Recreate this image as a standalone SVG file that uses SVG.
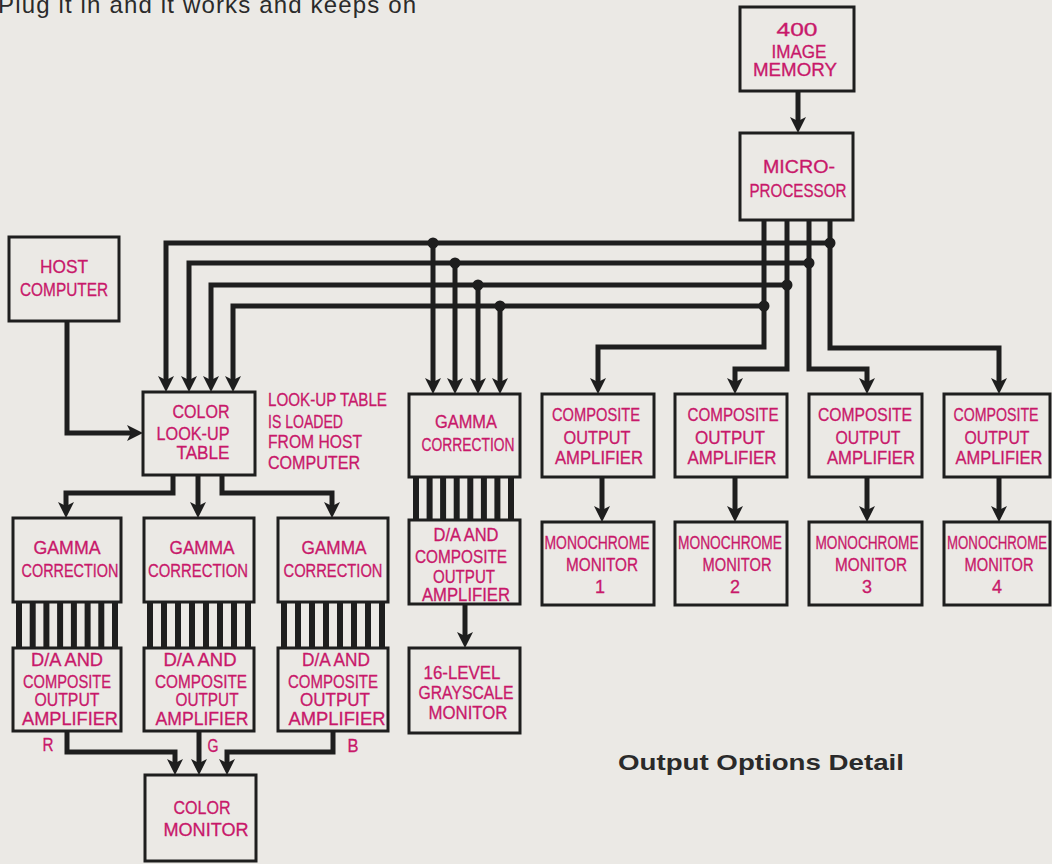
<svg xmlns="http://www.w3.org/2000/svg" width="1052" height="864" viewBox="0 0 1052 864">
<defs>
<style>
.bx{fill:none;stroke:#1e1e1e;stroke-width:3}
.bar{fill:#1e1e1e}
.c{fill:none;stroke:#1e1e1e;stroke-width:5;stroke-linejoin:miter}
.a{marker-end:url(#ah)}
.d{fill:#1e1e1e}
.t{fill:#c8186a;stroke:#c8186a;stroke-width:0.3;font-family:"Liberation Sans",Arial,sans-serif;font-size:18px;text-anchor:middle}
.s{text-anchor:start}
.k{fill:#2a2a2a;font-family:"Liberation Sans",Arial,sans-serif}
</style>
<marker id="ah" markerUnits="userSpaceOnUse" viewBox="0 -8 16 16" refX="5" refY="0" markerWidth="16" markerHeight="16" orient="auto">
<path d="M0,-8 L16,0 L0,8 L4,0 Z" fill="#1e1e1e"/>
</marker>
</defs>
<rect x="0" y="0" width="1052" height="864" fill="#ebe9e5"/>
<text class="k" x="-2" y="13" font-size="24" textLength="418" lengthAdjust="spacing">Plug it in and it works and keeps on</text>
<text class="k" x="618" y="770" font-size="22" font-weight="bold" textLength="286" lengthAdjust="spacingAndGlyphs">Output Options Detail</text>

<g id="connectors">
<path class="c a" d="M798,91 V122"/>
<path class="c a" d="M67,321 V433 H132"/>
<path class="c a" d="M830,220 V348 H999 V383"/>
<path class="c a" d="M830,243 H166 V381"/>
<path class="c a" d="M433,243 V383"/>
<path class="c a" d="M809,220 V369 H867 V383"/>
<path class="c a" d="M809,263 H189 V381"/>
<path class="c a" d="M455,263 V383"/>
<path class="c a" d="M787,220 V369 H735 V383"/>
<path class="c a" d="M787,285 H211 V381"/>
<path class="c a" d="M478,285 V383"/>
<path class="c a" d="M764,220 V347 H598 V383"/>
<path class="c a" d="M764,306 H233 V381"/>
<path class="c a" d="M500,306 V383"/>
<circle class="d" cx="830" cy="243" r="5.5"/>
<circle class="d" cx="809" cy="263" r="5.5"/>
<circle class="d" cx="787" cy="285" r="5.5"/>
<circle class="d" cx="764" cy="306" r="5.5"/>
<circle class="d" cx="433" cy="243" r="5.5"/>
<circle class="d" cx="455" cy="263" r="5.5"/>
<circle class="d" cx="478" cy="285" r="5.5"/>
<circle class="d" cx="500" cy="306" r="5.5"/>
<path class="c a" d="M173,475 V493 H66 V507"/>
<path class="c a" d="M198,475 V507"/>
<path class="c a" d="M222,475 V493 H332 V507"/>
<path class="c a" d="M67,731 V752 H175 V764"/>
<path class="c a" d="M199,731 V764"/>
<path class="c a" d="M333,731 V752 H227 V764"/>
<path class="c a" d="M465,604 V637"/>
<path class="c a" d="M602,477 V511"/>
<path class="c a" d="M735,477 V511"/>
<path class="c a" d="M867,477 V511"/>
<path class="c a" d="M999,477 V511"/>
</g>

<g id="image-memory">
<rect class="bx" x="740" y="7" width="114" height="84"/>
<text class="t" x="797" y="36" textLength="41" lengthAdjust="spacingAndGlyphs">400</text>
<text class="t" x="799" y="58" textLength="55" lengthAdjust="spacingAndGlyphs">IMAGE</text>
<text class="t" x="795" y="76" textLength="84" lengthAdjust="spacingAndGlyphs">MEMORY</text>
</g>
<g id="microprocessor">
<rect class="bx" x="740" y="133" width="113" height="87"/>
<text class="t" x="799" y="173" textLength="72" lengthAdjust="spacingAndGlyphs">MICRO-</text>
<text class="t" x="798" y="197" textLength="97" lengthAdjust="spacingAndGlyphs">PROCESSOR</text>
</g>
<g id="host-computer">
<rect class="bx" x="9" y="237" width="110" height="84"/>
<text class="t" x="64" y="273" textLength="48" lengthAdjust="spacingAndGlyphs">HOST</text>
<text class="t" x="64" y="296" textLength="88" lengthAdjust="spacingAndGlyphs">COMPUTER</text>
</g>
<g id="color-lut">
<rect class="bx" x="143" y="392" width="112" height="83"/>
<text class="t" x="201" y="418" textLength="57" lengthAdjust="spacingAndGlyphs">COLOR</text>
<text class="t" x="193" y="440" textLength="73" lengthAdjust="spacingAndGlyphs">LOOK-UP</text>
<text class="t" x="203" y="459" textLength="53" lengthAdjust="spacingAndGlyphs">TABLE</text>
</g>
<g id="lut-note">
<text class="t s" x="268" y="406" textLength="119" lengthAdjust="spacingAndGlyphs">LOOK-UP TABLE</text>
<text class="t s" x="268" y="428" textLength="75" lengthAdjust="spacingAndGlyphs">IS LOADED</text>
<text class="t s" x="268" y="448" textLength="94" lengthAdjust="spacingAndGlyphs">FROM HOST</text>
<text class="t s" x="268" y="469" textLength="92" lengthAdjust="spacingAndGlyphs">COMPUTER</text>
</g>

<g id="gamma-r">
<rect class="bx" x="13" y="518" width="108" height="84"/>
<text class="t" x="67" y="554" textLength="67" lengthAdjust="spacingAndGlyphs">GAMMA</text>
<text class="t" x="70" y="577" textLength="97" lengthAdjust="spacingAndGlyphs">CORRECTION</text>
<rect class="bar" x="16" y="602" width="6" height="46"/><rect class="bar" x="29.7" y="602" width="6" height="46"/><rect class="bar" x="43.4" y="602" width="6" height="46"/><rect class="bar" x="57.1" y="602" width="6" height="46"/><rect class="bar" x="70.9" y="602" width="6" height="46"/><rect class="bar" x="84.6" y="602" width="6" height="46"/><rect class="bar" x="98.3" y="602" width="6" height="46"/><rect class="bar" x="112" y="602" width="6" height="46"/>
</g>
<g id="da-r">
<rect class="bx" x="13" y="648" width="108" height="83"/>
<text class="t" x="67" y="666" textLength="72" lengthAdjust="spacingAndGlyphs">D/A AND</text>
<text class="t" x="67" y="688" textLength="88" lengthAdjust="spacingAndGlyphs">COMPOSITE</text>
<text class="t" x="67" y="706" textLength="65" lengthAdjust="spacingAndGlyphs">OUTPUT</text>
<text class="t" x="70" y="725" textLength="96" lengthAdjust="spacingAndGlyphs">AMPLIFIER</text>
<text class="t" x="48" y="751" textLength="11" lengthAdjust="spacingAndGlyphs">R</text>
</g>
<g id="gamma-g">
<rect class="bx" x="144" y="518" width="110" height="84"/>
<text class="t" x="202" y="554" textLength="65" lengthAdjust="spacingAndGlyphs">GAMMA</text>
<text class="t" x="198" y="577" textLength="100" lengthAdjust="spacingAndGlyphs">CORRECTION</text>
<rect class="bar" x="147" y="602" width="6" height="46"/><rect class="bar" x="161" y="602" width="6" height="46"/><rect class="bar" x="175" y="602" width="6" height="46"/><rect class="bar" x="189" y="602" width="6" height="46"/><rect class="bar" x="203" y="602" width="6" height="46"/><rect class="bar" x="217" y="602" width="6" height="46"/><rect class="bar" x="231" y="602" width="6" height="46"/><rect class="bar" x="245" y="602" width="6" height="46"/>
</g>
<g id="da-g">
<rect class="bx" x="144" y="648" width="110" height="83"/>
<text class="t" x="200" y="666" textLength="73" lengthAdjust="spacingAndGlyphs">D/A AND</text>
<text class="t" x="201" y="688" textLength="92" lengthAdjust="spacingAndGlyphs">COMPOSITE</text>
<text class="t" x="207" y="706" textLength="63" lengthAdjust="spacingAndGlyphs">OUTPUT</text>
<text class="t" x="202" y="725" textLength="93" lengthAdjust="spacingAndGlyphs">AMPLIFIER</text>
<text class="t" x="213" y="752" textLength="11" lengthAdjust="spacingAndGlyphs">G</text>
</g>
<g id="gamma-b">
<rect class="bx" x="278" y="518" width="110" height="84"/>
<text class="t" x="334" y="554" textLength="65" lengthAdjust="spacingAndGlyphs">GAMMA</text>
<text class="t" x="333" y="577" textLength="99" lengthAdjust="spacingAndGlyphs">CORRECTION</text>
<rect class="bar" x="281" y="602" width="6" height="46"/><rect class="bar" x="295" y="602" width="6" height="46"/><rect class="bar" x="309" y="602" width="6" height="46"/><rect class="bar" x="323" y="602" width="6" height="46"/><rect class="bar" x="337" y="602" width="6" height="46"/><rect class="bar" x="351" y="602" width="6" height="46"/><rect class="bar" x="365" y="602" width="6" height="46"/><rect class="bar" x="379" y="602" width="6" height="46"/>
</g>
<g id="da-b">
<rect class="bx" x="278" y="648" width="110" height="83"/>
<text class="t" x="336" y="666" textLength="68" lengthAdjust="spacingAndGlyphs">D/A AND</text>
<text class="t" x="333" y="688" textLength="90" lengthAdjust="spacingAndGlyphs">COMPOSITE</text>
<text class="t" x="335" y="706" textLength="70" lengthAdjust="spacingAndGlyphs">OUTPUT</text>
<text class="t" x="337" y="725" textLength="97" lengthAdjust="spacingAndGlyphs">AMPLIFIER</text>
<text class="t" x="353" y="752" textLength="11" lengthAdjust="spacingAndGlyphs">B</text>
</g>
<g id="color-monitor">
<rect class="bx" x="145" y="775" width="111" height="86"/>
<text class="t" x="202" y="814" textLength="57" lengthAdjust="spacingAndGlyphs">COLOR</text>
<text class="t" x="206" y="836" textLength="85" lengthAdjust="spacingAndGlyphs">MONITOR</text>
</g>

<g id="gamma-mono">
<rect class="bx" x="409" y="394" width="111" height="83"/>
<text class="t" x="466" y="428" textLength="62" lengthAdjust="spacingAndGlyphs">GAMMA</text>
<text class="t" x="468" y="451" textLength="93" lengthAdjust="spacingAndGlyphs">CORRECTION</text>
<rect class="bar" x="413" y="477" width="6" height="43"/><rect class="bar" x="426.6" y="477" width="6" height="43"/><rect class="bar" x="440.1" y="477" width="6" height="43"/><rect class="bar" x="453.7" y="477" width="6" height="43"/><rect class="bar" x="467.3" y="477" width="6" height="43"/><rect class="bar" x="480.9" y="477" width="6" height="43"/><rect class="bar" x="494.4" y="477" width="6" height="43"/><rect class="bar" x="508" y="477" width="6" height="43"/>
</g>
<g id="da-mono">
<rect class="bx" x="409" y="520" width="111" height="84"/>
<text class="t" x="466" y="541" textLength="65" lengthAdjust="spacingAndGlyphs">D/A AND</text>
<text class="t" x="461" y="563" textLength="92" lengthAdjust="spacingAndGlyphs">COMPOSITE</text>
<text class="t" x="464" y="583" textLength="62" lengthAdjust="spacingAndGlyphs">OUTPUT</text>
<text class="t" x="466" y="601" textLength="88" lengthAdjust="spacingAndGlyphs">AMPLIFIER</text>
</g>
<g id="grayscale-monitor">
<rect class="bx" x="409" y="648" width="111" height="85"/>
<text class="t" x="462" y="679" textLength="77" lengthAdjust="spacingAndGlyphs">16-LEVEL</text>
<text class="t" x="466" y="699" textLength="95" lengthAdjust="spacingAndGlyphs">GRAYSCALE</text>
<text class="t" x="468" y="719" textLength="79" lengthAdjust="spacingAndGlyphs">MONITOR</text>
</g>

<g id="amp-1">
<rect class="bx" x="542" y="394" width="112" height="83"/>
<text class="t" x="596" y="421" textLength="88" lengthAdjust="spacingAndGlyphs">COMPOSITE</text>
<text class="t" x="597" y="444" textLength="67" lengthAdjust="spacingAndGlyphs">OUTPUT</text>
<text class="t" x="599" y="464" textLength="88" lengthAdjust="spacingAndGlyphs">AMPLIFIER</text>
</g>
<g id="amp-2">
<rect class="bx" x="675" y="394" width="112" height="83"/>
<text class="t" x="733" y="421" textLength="91" lengthAdjust="spacingAndGlyphs">COMPOSITE</text>
<text class="t" x="730" y="444" textLength="70" lengthAdjust="spacingAndGlyphs">OUTPUT</text>
<text class="t" x="732" y="464" textLength="89" lengthAdjust="spacingAndGlyphs">AMPLIFIER</text>
</g>
<g id="amp-3">
<rect class="bx" x="809" y="394" width="113" height="83"/>
<text class="t" x="865" y="421" textLength="94" lengthAdjust="spacingAndGlyphs">COMPOSITE</text>
<text class="t" x="868" y="444" textLength="65" lengthAdjust="spacingAndGlyphs">OUTPUT</text>
<text class="t" x="871" y="464" textLength="88" lengthAdjust="spacingAndGlyphs">AMPLIFIER</text>
</g>
<g id="amp-4">
<rect class="bx" x="944" y="394" width="106" height="83"/>
<text class="t" x="996" y="421" textLength="85" lengthAdjust="spacingAndGlyphs">COMPOSITE</text>
<text class="t" x="997" y="444" textLength="65" lengthAdjust="spacingAndGlyphs">OUTPUT</text>
<text class="t" x="999" y="464" textLength="87" lengthAdjust="spacingAndGlyphs">AMPLIFIER</text>
</g>
<g id="mono-1">
<rect class="bx" x="542" y="522" width="112" height="83"/>
<text class="t" x="597" y="549" textLength="105" lengthAdjust="spacingAndGlyphs">MONOCHROME</text>
<text class="t" x="602" y="571" textLength="72" lengthAdjust="spacingAndGlyphs">MONITOR</text>
<text class="t" x="600" y="593">1</text>
</g>
<g id="mono-2">
<rect class="bx" x="675" y="522" width="112" height="83"/>
<text class="t" x="730" y="549" textLength="104" lengthAdjust="spacingAndGlyphs">MONOCHROME</text>
<text class="t" x="737" y="571" textLength="69" lengthAdjust="spacingAndGlyphs">MONITOR</text>
<text class="t" x="735" y="593">2</text>
</g>
<g id="mono-3">
<rect class="bx" x="809" y="522" width="113" height="83"/>
<text class="t" x="867" y="549" textLength="103" lengthAdjust="spacingAndGlyphs">MONOCHROME</text>
<text class="t" x="871" y="571" textLength="72" lengthAdjust="spacingAndGlyphs">MONITOR</text>
<text class="t" x="867" y="593">3</text>
</g>
<g id="mono-4">
<rect class="bx" x="944" y="522" width="106" height="83"/>
<text class="t" x="997" y="549" textLength="100" lengthAdjust="spacingAndGlyphs">MONOCHROME</text>
<text class="t" x="999" y="571" textLength="69" lengthAdjust="spacingAndGlyphs">MONITOR</text>
<text class="t" x="997" y="593">4</text>
</g>
</svg>
